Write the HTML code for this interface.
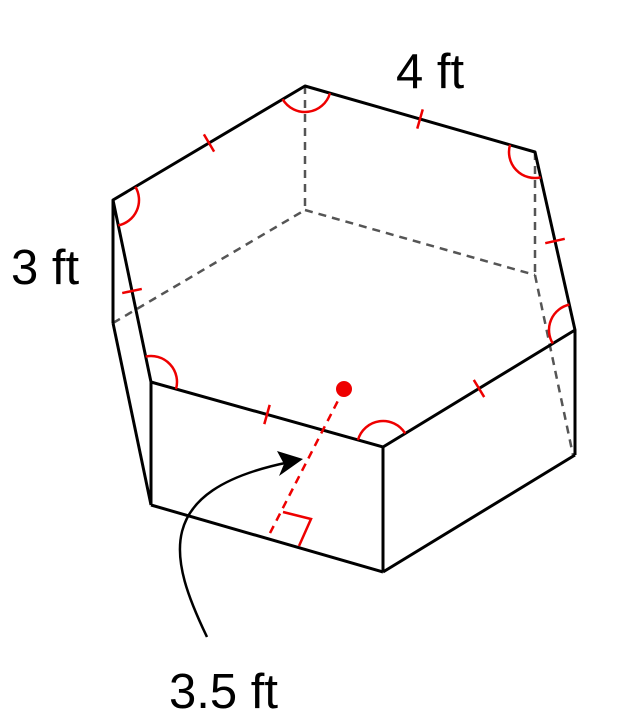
<!DOCTYPE html>
<html><head><meta charset="utf-8">
<style>
html,body{margin:0;padding:0;background:#fff;width:637px;height:725px;overflow:hidden}
svg text{font-family:"Liberation Sans",sans-serif;font-size:49px;fill:#000}
</style></head>
<body>
<svg id="fig" width="637" height="725" viewBox="0 0 637 725">
  <g stroke="#555" stroke-width="2.5" stroke-dasharray="8,6" fill="none">
    <line x1="305" y1="86" x2="305" y2="210"/>
    <line x1="535" y1="152" x2="535" y2="275"/>
    <line x1="113" y1="323" x2="305" y2="210"/>
    <line x1="305" y1="210" x2="535" y2="275"/>
    <line x1="535" y1="275" x2="573" y2="455"/>
  </g>
  <g stroke="#000" stroke-width="3" fill="none" stroke-linejoin="round">
    <polygon points="113,200 305,86 535,152 575,330 383,447 151,382"/>
    <line x1="113" y1="200" x2="113" y2="323"/>
    <line x1="113" y1="323" x2="151" y2="505"/>
    <line x1="151" y1="382" x2="151" y2="505"/>
    <line x1="151" y1="505" x2="383" y2="572"/>
    <line x1="383" y1="447" x2="383" y2="572"/>
    <line x1="383" y1="572" x2="575" y2="455"/>
    <line x1="575" y1="330" x2="575" y2="455"/>
  </g>
  <g id="marks" stroke="#e00" stroke-width="2.5" fill="none"></g>
  <g>
    <line x1="344" y1="389" x2="268" y2="537" stroke="#e00" stroke-width="2.5" stroke-dasharray="8,6"/>
    <polyline points="283,512 311,519 299,546" stroke="#e00" stroke-width="2.5" fill="none"/>
    <circle cx="344" cy="389" r="8" fill="#e00"/>
  </g>
  <g>
    <path d="M207,637 C170,560 150,490 290,462" stroke="#000" stroke-width="2.5" fill="none"/>
    <polygon points="303,459 277,451 284,464 279,476" fill="#000"/>
  </g>
  <text x="396" y="88">4 ft</text>
  <text x="11" y="284">3 ft</text>
  <text x="169" y="708">3.5 ft</text>
</svg>
<script>
const pts=[[113,200],[305,86],[535,152],[575,330],[383,447],[151,382]];
const g=document.getElementById('marks');
const NS='http://www.w3.org/2000/svg';
const r=26;
for(let i=0;i<6;i++){
  const V=pts[i],P=pts[(i+5)%6],N=pts[(i+1)%6];
  const a=[P[0]-V[0],P[1]-V[1]],b=[N[0]-V[0],N[1]-V[1]];
  const la=Math.hypot(...a),lb=Math.hypot(...b);
  const u1=[a[0]/la,a[1]/la],u2=[b[0]/lb,b[1]/lb];
  const cr=u1[0]*u2[1]-u1[1]*u2[0];
  const sw=cr>0?1:0;
  const p=document.createElementNS(NS,'path');
  p.setAttribute('d',`M${V[0]+r*u1[0]},${V[1]+r*u1[1]} A${r},${r} 0 0 ${sw} ${V[0]+r*u2[0]},${V[1]+r*u2[1]}`);
  
  
  g.appendChild(p);
  const m=[(V[0]+N[0])/2,(V[1]+N[1])/2];
  const n=[-u2[1],u2[0]];
  const t=document.createElementNS(NS,'line');
  t.setAttribute('x1',m[0]-10*n[0]);t.setAttribute('y1',m[1]-10*n[1]);
  t.setAttribute('x2',m[0]+10*n[0]);t.setAttribute('y2',m[1]+10*n[1]);
  
  
  g.appendChild(t);
}
</script>
</body></html>
